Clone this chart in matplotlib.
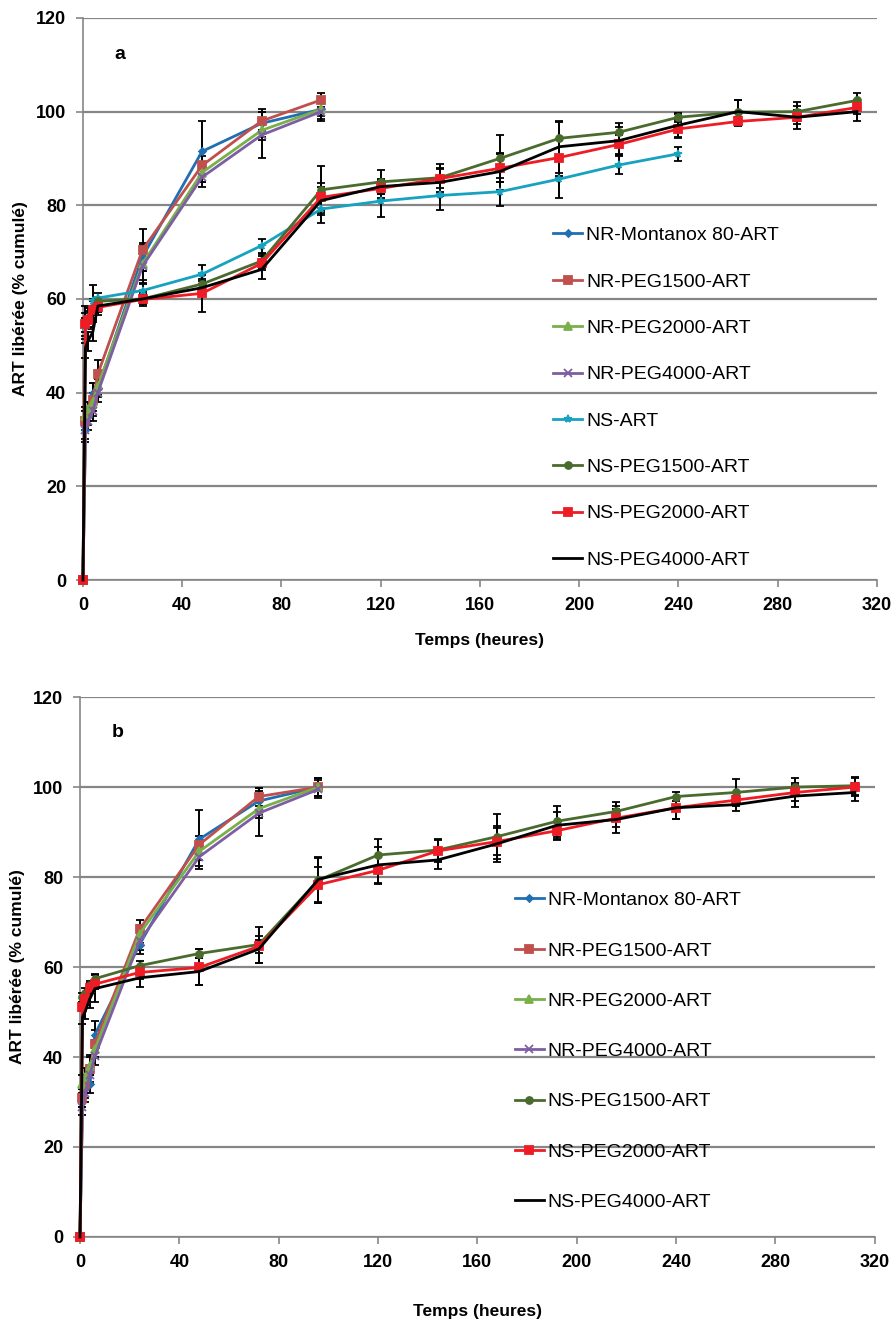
import matplotlib
matplotlib.use("Agg")
import matplotlib.pyplot as plt

plt.rcParams['font.family'] = ['Liberation Sans', 'DejaVu Sans']

# time points (heures)
t_nr = [0, 1, 2, 4, 6, 24, 48, 72, 96]
t_ns = [0, 1, 2, 4, 6, 24, 48, 72, 96, 120, 144, 168, 192, 216, 240, 264, 288, 312]
t_ns_art = t_ns[:15]

names = ['NR-Montanox 80-ART', 'NR-PEG1500-ART', 'NR-PEG2000-ART', 'NR-PEG4000-ART',
         'NS-ART', 'NS-PEG1500-ART', 'NS-PEG2000-ART', 'NS-PEG4000-ART']

# panel a
a_nr_mont = [0, 32, 35, 40, 41, 69, 91.5, 97.5, 100.5]
a_nr_1500 = [0, 34, 36, 38.5, 44, 70.5, 88.5, 98, 102.5]
a_nr_2000 = [0, 35, 36.5, 38, 41.5, 67.5, 87, 96, 100.5]
a_nr_4000 = [0, 32, 34, 36, 40, 67, 86, 95, 100]
a_ns_art = [0, 54, 56, 59.5, 60.2, 61.8, 65.3, 71.4, 79.2, 80.9, 82.1, 82.9, 85.6, 88.6, 91.0]
a_ns_1500 = [0, 55, 56, 58, 59.5, 60, 63.2, 68.1, 83.3, 85.0, 85.9, 90.0, 94.3, 95.6, 98.8, 99.9, 100, 102.4]
a_ns_2000 = [0, 54.6, 55.5, 57.6, 58.2, 59.9, 61.2, 67.6, 81.7, 83.6, 85.7, 87.9, 90.2, 93.0, 96.3, 97.9, 98.8, 100.9]
a_ns_4000 = [0, 49.5, 51, 53, 58.5, 60, 62.4, 66.3, 81, 84, 84.9, 87.2, 92.5, 93.8, 97.1, 100, 98.8, 100]

a_nr_mont_err = [0, 2, 2, 2, 2, 3, 6.5, 3, 2]
a_nr_1500_err = [0, 2, 2, 3.5, 3, 4.5, 2, 2, 1.5]
a_nr_2000_err = [0, 2, 1.5, 2, 2, 4, 2, 2, 1.5]
a_nr_4000_err = [0, 2.5, 2, 2, 2, 3, 2, 5, 2]
a_ns_art_err = [0, 2, 2, 3.5, 1, 1.5, 2, 1.5, 3, 3.5, 3, 3, 4, 2, 1.5]
a_ns_1500_err = [0, 2, 2, 2, 1, 1, 1, 1.5, 5, 2.5, 3, 5, 3.5, 2, 1, 2.5, 2, 1.5]
a_ns_2000_err = [0, 4, 2, 2, 1, 1, 4, 1.5, 3, 2, 2, 3, 4, 2, 2, 1, 1.5, 1.5]
a_ns_4000_err = [0, 2, 2, 2, 2, 1.5, 1.5, 2, 3, 1.5, 3, 4, 5.5, 3, 2.5, 2.5, 2.5, 2]

# panel b
b_nr_mont = [0, 31, 33, 34, 45, 65, 88.4, 96.9, 100]
b_nr_1500 = [0, 31, 34, 37.4, 43, 68.4, 87.2, 97.9, 100]
b_nr_2000 = [0, 34, 35.5, 38, 41.7, 67.4, 85.7, 95.2, 100]
b_nr_4000 = [0, 29, 32, 36, 40.2, 65.8, 84.5, 94.2, 99.5]
b_ns_1500 = [0, 53.3, 54.3, 56, 57.4, 60.3, 63, 65, 79.3, 84.9, 86.0, 89.0, 92.4, 94.6, 97.9, 98.8, 100, 100.3]
b_ns_2000 = [0, 51.2, 52.9, 55.4, 56.2, 58.8, 59.9, 64.6, 78.3, 81.5, 85.8, 87.9, 90.3, 93.1, 95.4, 97.1, 98.8, 100]
b_ns_4000 = [0, 48.9, 50, 53, 55.2, 57.6, 59.0, 64.0, 79.5, 82.7, 83.8, 87.4, 91.5, 92.8, 95.4, 96.1, 98, 98.8]

b_nr_mont_err = [0, 2, 2, 2, 3, 2, 6.5, 3, 2]
b_nr_1500_err = [0, 2, 2, 3, 3, 2, 2, 2, 2]
b_nr_2000_err = [0, 2, 2, 2, 2, 2, 2, 2, 2]
b_nr_4000_err = [0, 2, 2, 2, 2, 2, 2, 5, 2]
b_ns_1500_err = [0, 1, 1, 1, 1, 1, 1, 4, 5, 3.5, 2.5, 5, 3.5, 2, 1, 3, 2, 2]
b_ns_2000_err = [0, 1, 1, 1, 1, 1.5, 4, 1.5, 4, 3, 2.5, 3, 2, 2, 2.5, 1, 2, 2]
b_ns_4000_err = [0, 1.5, 1.5, 2, 3, 2, 3, 3, 5, 4, 2, 4, 3, 3, 2.5, 1.5, 2.5, 2]

colors = ['#1f6fb2', '#c0504d', '#79b04a', '#7d5ea3', '#17a2c0', '#4a6b2e', '#ee1c25', '#000000']
markers = ['D', 's', '^', 'x', '*', 'o', 's', None]
msizes = [3.5, 5.5, 5.5, 5.5, 5.5, 5, 5.5, 0]

fig = plt.figure(figsize=(8.95, 13.2), dpi=100)
ax_a = fig.add_axes([0.0927, 0.5606, 0.887, 0.4258])
ax_b = fig.add_axes([0.0894, 0.0629, 0.888, 0.409])

def draw(ax, series, idx, label_char, leg_anchor, spacing, xpad, ypad):
    for (t, y, e), i in zip(series, idx):
        ax.errorbar(t, y, yerr=e, color=colors[i], marker=markers[i], markersize=msizes[i],
                    markeredgewidth=1.3, linewidth=2, ecolor='black', elinewidth=1.4,
                    capsize=3, capthick=1.4, label=names[i], clip_on=False, zorder=3)
    ax.set_xlim(0, 320)
    ax.set_ylim(0, 120)
    ax.set_xticks(range(0, 321, 40))
    ax.set_yticks(range(0, 121, 20))
    ax.yaxis.grid(True, color='#868686', linewidth=1.6)
    ax.set_axisbelow(True)
    for s in ['top', 'right']:
        ax.spines[s].set_visible(False)
    for s in ['left', 'bottom']:
        ax.spines[s].set_color('#868686')
        ax.spines[s].set_linewidth(1.2)
    ax.tick_params(colors='#868686', labelcolor='black', length=5, width=1.2, labelsize=13, pad=7)
    for lab in ax.get_xticklabels() + ax.get_yticklabels():
        lab.set_fontweight('bold')
    ax.set_xlabel('Temps (heures)', fontsize=12.5, fontweight='bold', labelpad=xpad)
    ax.set_ylabel('ART libérée (% cumulé)', fontsize=12.5, fontweight='bold', labelpad=ypad)
    ax.text(0.047, 0.935, label_char, transform=ax.transAxes, fontsize=14, fontweight='bold',
            ha='center', va='center')
    h, l = ax.get_legend_handles_labels()
    handles = [x[0] for x in h]
    ax.legend(handles, l, loc='upper left', bbox_to_anchor=leg_anchor, frameon=False,
              fontsize=14, labelspacing=spacing, handlelength=1.5, handletextpad=0.2)

draw(ax_a,
     [(t_nr, a_nr_mont, a_nr_mont_err), (t_nr, a_nr_1500, a_nr_1500_err),
      (t_nr, a_nr_2000, a_nr_2000_err), (t_nr, a_nr_4000, a_nr_4000_err),
      (t_ns_art, a_ns_art, a_ns_art_err), (t_ns, a_ns_1500, a_ns_1500_err),
      (t_ns, a_ns_2000, a_ns_2000_err), (t_ns, a_ns_4000, a_ns_4000_err)],
     [0, 1, 2, 3, 4, 5, 6, 7], 'a', (0.57, 0.66), 1.48, 14, 6)

draw(ax_b,
     [(t_nr, b_nr_mont, b_nr_mont_err), (t_nr, b_nr_1500, b_nr_1500_err),
      (t_nr, b_nr_2000, b_nr_2000_err), (t_nr, b_nr_4000, b_nr_4000_err),
      (t_ns, b_ns_1500, b_ns_1500_err), (t_ns, b_ns_2000, b_ns_2000_err),
      (t_ns, b_ns_4000, b_ns_4000_err)],
     [0, 1, 2, 3, 5, 6, 7], 'b', (0.525, 0.672), 1.68, 24, 6)

fig.savefig('out.png', dpi=100)
